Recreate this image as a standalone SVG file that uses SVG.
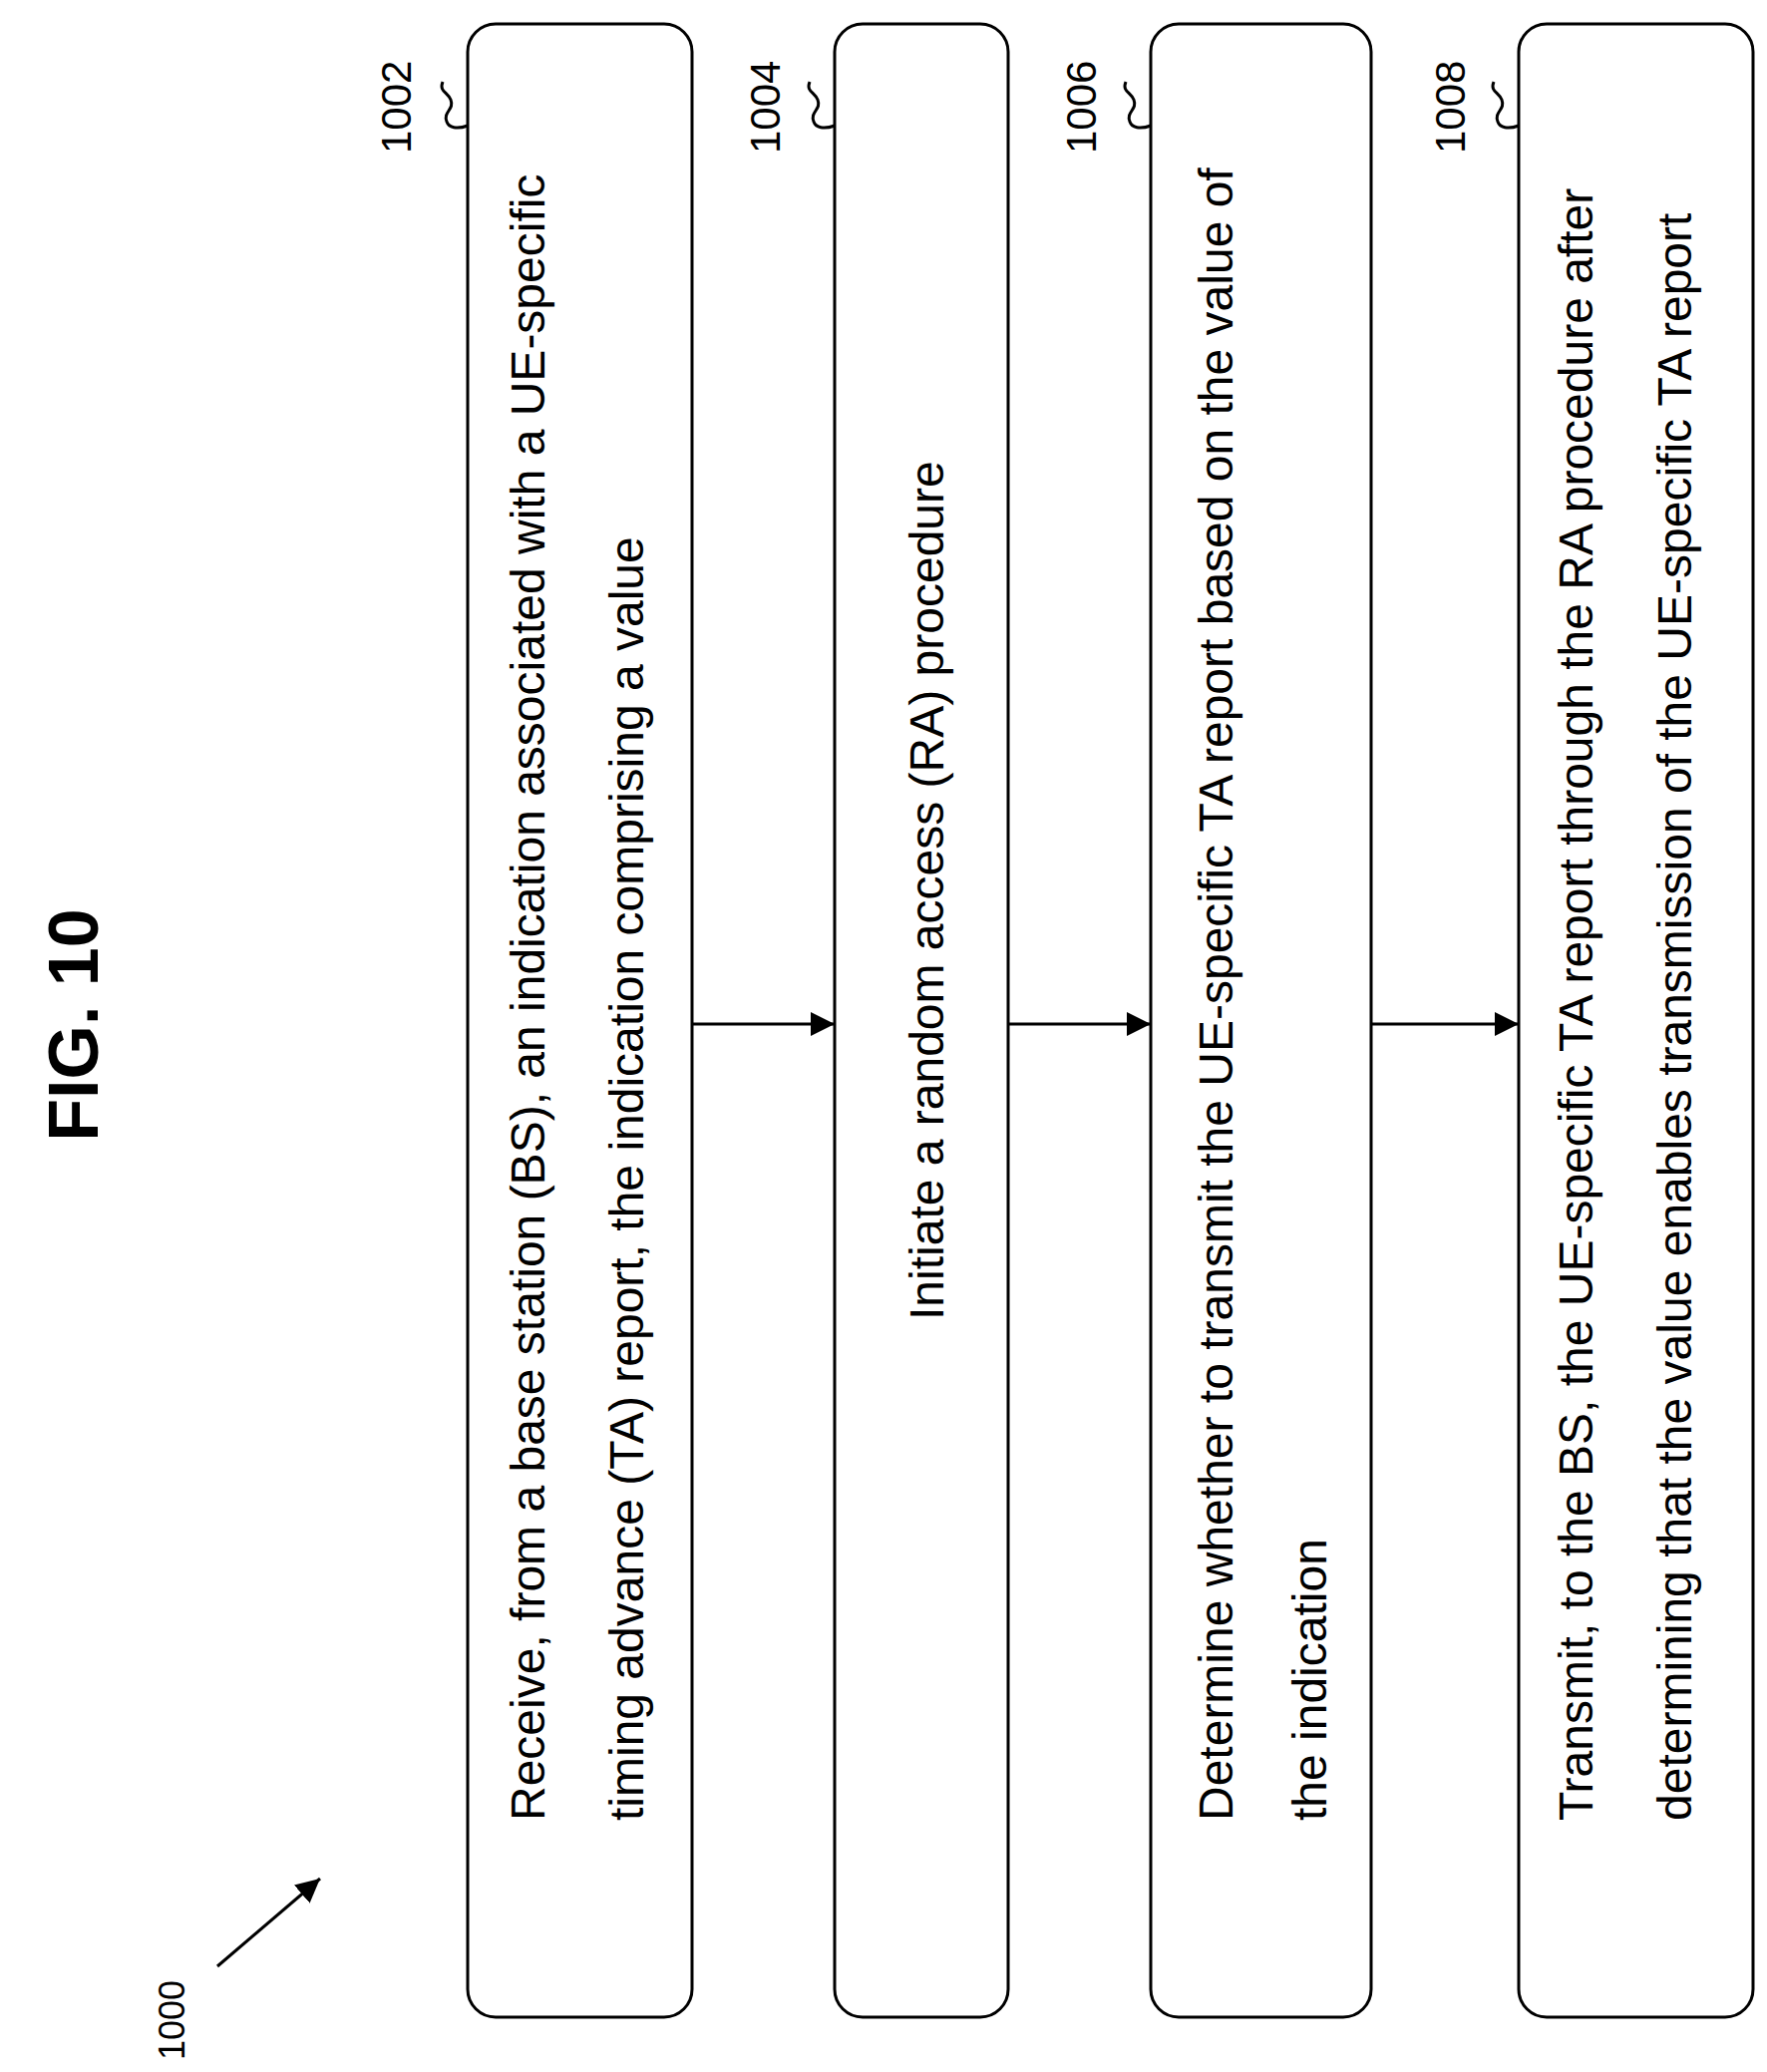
<svg xmlns="http://www.w3.org/2000/svg" width="1772" height="2078" viewBox="0 0 1772 2078">
<style>
.box{fill:#fff;stroke:#000;stroke-width:3}
.t{font-family:"Liberation Sans",Arial,sans-serif;font-size:48px;fill:#000}
.l{font-family:"Liberation Sans",Arial,sans-serif;font-size:42px;fill:#000}
.c{fill:none;stroke:#000;stroke-width:3}
</style>
<defs><marker id="ah2" viewBox="0 0 10 10" refX="10" refY="5" markerWidth="24" markerHeight="24" orient="auto" markerUnits="userSpaceOnUse"><path d="M0,0L10,5L0,10z" fill="#000"/></marker></defs>
<rect width="1772" height="2078" fill="#fff"/>
<text font-family="Liberation Sans,Arial,sans-serif" font-weight="bold" font-size="70" transform="translate(98,1028) rotate(-90)" text-anchor="middle">FIG. 10</text>
<g id="label1000"><text class="l" style="font-size:36px" transform="translate(185,2066) rotate(-90)">1000</text></g>
<g id="n1002"><rect class="box" x="469" y="24" width="225" height="1999" rx="28"/>
<text class="t" transform="translate(546,1826) rotate(-90)">Receive, from a base station (BS), an indication associated with a UE-specific</text>
<text class="t" transform="translate(645,1826) rotate(-90)">timing advance (TA) report, the indication comprising a value</text>
<text class="l" transform="translate(412,154) rotate(-90)">1002</text></g>
<g id="n1004"><rect class="box" x="837" y="24" width="174" height="1999" rx="28"/>
<text class="t" transform="translate(946,1324) rotate(-90)">Initiate a random access (RA) procedure</text>
<text class="l" transform="translate(782,154) rotate(-90)">1004</text></g>
<g id="n1006"><rect class="box" x="1154" y="24" width="221" height="1999" rx="28"/>
<text class="t" transform="translate(1236,1826) rotate(-90)">Determine whether to transmit the UE-specific TA report based on the value of</text>
<text class="t" transform="translate(1330,1826) rotate(-90)">the indication</text>
<text class="l" transform="translate(1099,154) rotate(-90)">1006</text></g>
<g id="n1008"><rect class="box" x="1523" y="24" width="235" height="1999" rx="28"/>
<text class="t" transform="translate(1597,1826) rotate(-90)">Transmit, to the BS, the UE-specific TA report through the RA procedure after</text>
<text class="t" transform="translate(1696,1826) rotate(-90)">determining that the value enables transmission of the UE-specific TA report</text>
<text class="l" transform="translate(1469,154) rotate(-90)">1008</text></g>
<g id="connectors">
<path class="c" d="M694,1027H837" marker-end="url(#ah2)"/>
<path class="c" d="M1011,1027H1154" marker-end="url(#ah2)"/>
<path class="c" d="M1375,1027H1523" marker-end="url(#ah2)"/>
<path class="c" d="M218,1972L321,1884" marker-end="url(#ah2)"/>
<path class="c" d="M448,122c-4,-10 8,-12 4,-22c-3,-8 -12,-8 -8,-18M448,122c2,6 10,8 21,4"/>
<path class="c" d="M816,122c-4,-10 8,-12 4,-22c-3,-8 -12,-8 -8,-18M816,122c2,6 10,8 21,4"/>
<path class="c" d="M1133,122c-4,-10 8,-12 4,-22c-3,-8 -12,-8 -8,-18M1133,122c2,6 10,8 21,4"/>
<path class="c" d="M1502,122c-4,-10 8,-12 4,-22c-3,-8 -12,-8 -8,-18M1502,122c2,6 10,8 21,4"/>
</g>
</svg>
